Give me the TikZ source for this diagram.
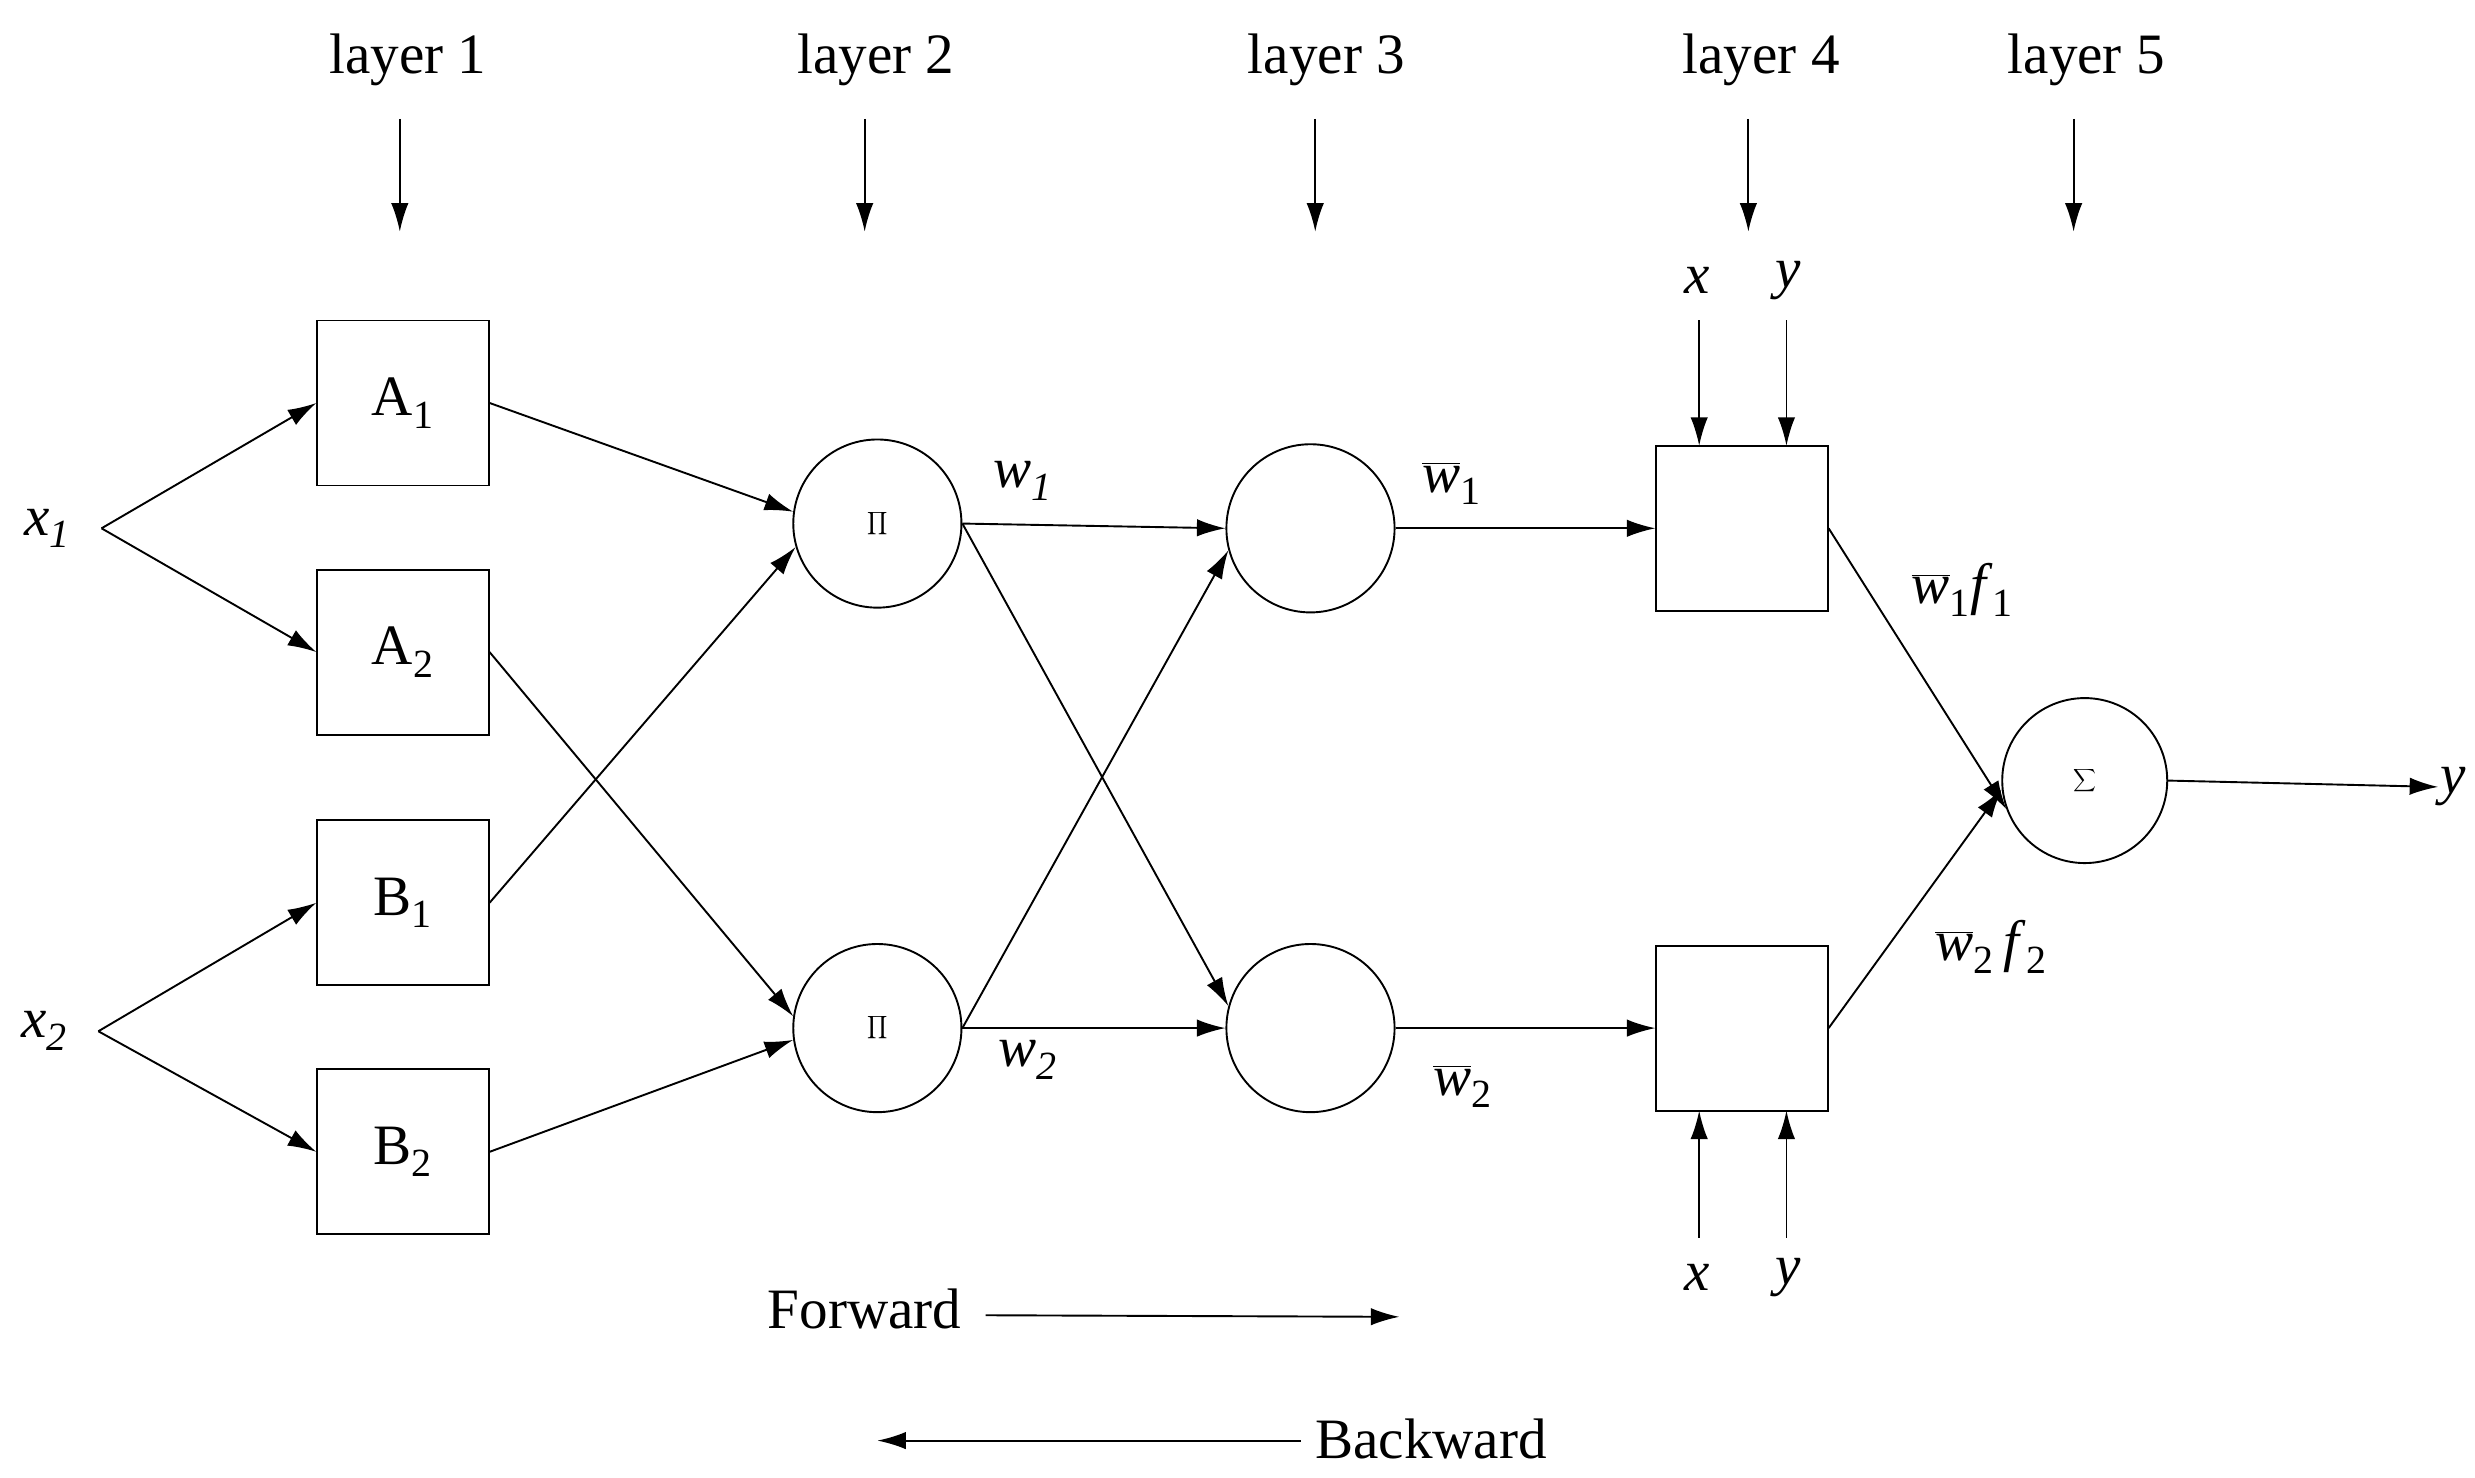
\documentclass[tikz,border=0pt]{standalone}
\usepackage{fontspec}
\setmainfont{Liberation Serif}
\usetikzlibrary{arrows.meta}
\begin{document}
\begin{tikzpicture}[x=1pt,y=-1pt,
  every node/.style={font=\fontsize{36}{40}\selectfont},
  box/.style={draw,line width=1.2pt,minimum width=108pt,minimum height=104pt,inner sep=0pt},
  circ/.style={draw,line width=1.2pt,circle,minimum size=106pt,inner sep=0pt},
  lab/.style={inner sep=1pt},
  arr/.style={line width=1.2pt,-{Latex[length=18pt,width=11pt]}},
  ln/.style={line width=1.2pt}]
\useasboundingbox (0,0) rectangle (1560,931);
% layer labels
\foreach \n/\x/\ax in {1/257/252,2/552/545,3/836/829,4/1110/1102,5/1315/1307}{
  \node[lab] (L\n) at (\x,38) {layer \n};
  \coordinate (La\n) at (\ax,75);
  \coordinate (Lb\n) at (\ax,146);
  \draw[arr] (La\n) -- (Lb\n);
}
% layer 1
\node[box] (A1) at (254,254) {A\textsubscript{1}};
\node[box] (A2) at (254,411) {A\textsubscript{2}};
\node[box] (B1) at (254,569) {B\textsubscript{1}};
\node[box] (B2) at (254,726) {B\textsubscript{2}};
\node[lab] (x1) at (30,333) {\textit{x\textsubscript{1}}};
\node[lab] (x2) at (28,650) {\textit{x\textsubscript{2}}};
\coordinate (x1e) at (64,333);
\coordinate (x2e) at (62,650);
\draw[arr] (x1e) -- (A1.west);
\draw[arr] (x1e) -- (A2.west);
\draw[arr] (x2e) -- (B1.west);
\draw[arr] (x2e) -- (B2.west);
% layer 2
\node[circ] (P1) at (553,330) {$\displaystyle\prod$};
\node[circ] (P2) at (553,648) {$\displaystyle\prod$};
\draw[arr] (A1.east) -- (P1.172);
\draw[arr] (B1.east) -- (P1.196);
\draw[arr] (A2.east) -- (P2.172);
\draw[arr] (B2.east) -- (P2.188);
% layer 3
\node[circ] (C1) at (826,333) {};
\node[circ] (C2) at (826,648) {};
\draw[arr] (P1.east) -- (C1.west);
\draw[arr] (P2.east) -- (C2.west);
\draw[arr] (P1.east) -- (C2.165);
\draw[arr] (P2.east) -- (C1.195);
\node[lab] (w1) at (645,303) {\textit{w\textsubscript{1}}};
\node[lab] (w2) at (648,668) {\textit{w\textsubscript{2}}};
% layer 4
\node[box] (D1) at (1098,333) {};
\node[box] (D2) at (1098,648) {};
\draw[arr] (C1.east) -- (D1.west);
\draw[arr] (C2.east) -- (D2.west);
\node[lab] (wb1) at (915,305) {$\overline{\mbox{\textit{w}}}$\textsubscript{1}};
\node[lab] (wb2) at (922,685) {$\overline{\mbox{\textit{w}}}$\textsubscript{2}};
\node[lab] (tx) at (1070,177) {\textit{x}};
\node[lab] (ty) at (1127,177) {\textit{y}};
\node[lab] (bx) at (1070,805) {\textit{x}};
\node[lab] (by) at (1127,805) {\textit{y}};
\coordinate (tx0) at (1071,202); \coordinate (tx1) at (1071,281);
\coordinate (ty0) at (1126,202); \coordinate (ty1) at (1126,281);
\coordinate (bx0) at (1071,780); \coordinate (bx1) at (1071,700);
\coordinate (by0) at (1126,780); \coordinate (by1) at (1126,700);
\draw[arr] (tx0) -- (tx1);
\draw[arr] (ty0) -- (ty1);
\draw[arr] (bx0) -- (bx1);
\draw[arr] (by0) -- (by1);
% layer 5
\node[circ,minimum size=104pt] (S) at (1314,492) {$\displaystyle\sum$};
\draw[arr] (D1.east) -- (S.200);
\draw[arr] (D2.east) -- (S.186);
\node[lab] (f1) at (1237,372) {$\overline{\mbox{\textit{w}}}$\textsubscript{1}\textit{f}\textsubscript{1}};
\node[lab] (f2) at (1255,597) {$\overline{\mbox{\textit{w}}}$\textsubscript{2}\,\textit{f}\textsubscript{2}};
\node[lab] (y) at (1546,496) {\textit{y}};
\draw[arr] (S.east) -- (y.west);
% forward/backward
\node[lab] (fw) at (545,825) {Forward};
\coordinate (fe) at (882,830);
\draw[arr] (fw.east) ++(14,4) -- (fe);
\node[lab] (bw) at (902,907) {Backward};
\coordinate (be) at (553,908);
\draw[arr] (bw.west) ++(-8,1) -- (be);
\end{tikzpicture}
\end{document}
